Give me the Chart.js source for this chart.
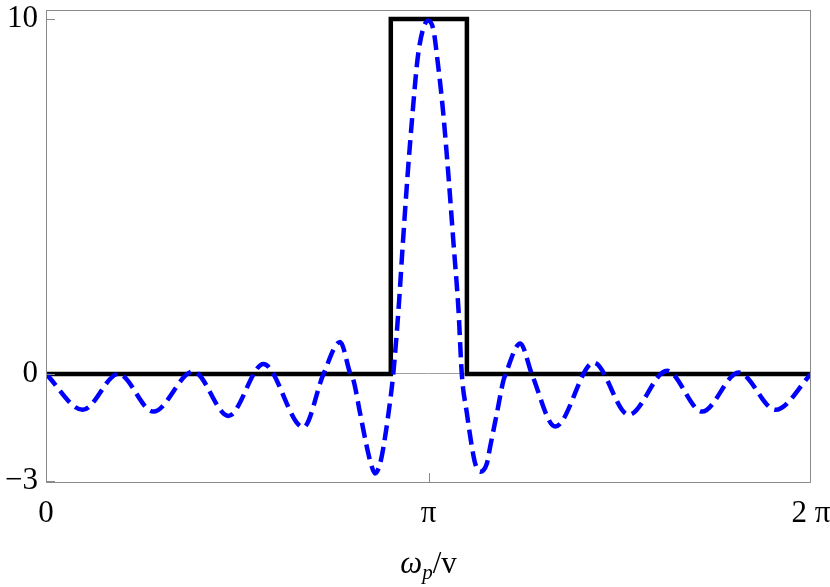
<!DOCTYPE html>
<html>
<head>
<meta charset="utf-8">
<script src="https://cdn.jsdelivr.net/npm/chart.js@4/dist/chart.umd.min.js"></script>
<style>
  html, body { margin: 0; padding: 0; background: #fff; }
  #wrap { width: 830px; height: 587px; position: relative; }
</style>
</head>
<body>
<div id="wrap"><canvas id="chart"></canvas></div>
<script>
// rectangular pulse (solid black)
const pulseX = [0, 2.832, 2.832, 3.457, 3.457, 6.2832];
const pulseY = [0, 0, 10, 10, 0, 0];

// oscillating response (blue dashed)
const waveX = [0, 0.302, 0.594, 0.882, 1.210, 1.498, 1.786, 2.114, 2.279, 2.416, 2.500,
  2.525, 2.580, 2.635, 2.668, 2.703, 2.744, 2.772, 2.813, 2.852,
  2.895, 2.931, 2.969, 3.013, 3.051, 3.095, 3.139,
  3.182, 3.215, 3.260, 3.306, 3.347, 3.388, 3.415,
  3.457, 3.498, 3.525, 3.566, 3.621, 3.648, 3.703, 3.758, 3.775,
  3.895, 3.990, 4.183, 4.498, 4.786, 5.101, 5.389, 5.690, 5.992, 6.2832];
const waveY = [0, -1.01, 0.0, -1.06, 0.07, -1.18, 0.28, -1.5, 0, 0.9, 0,
  -0.17, -1.11, -2.05, -2.52, -2.8, -2.52, -2.05, -1.11, 0,
  1.8, 3.68, 5.56, 7.44, 8.85, 9.69, 9.95,
  9.69, 8.85, 7.44, 5.56, 3.68, 1.8, 0,
  -1.11, -2.05, -2.52, -2.75, -2.52, -2.05, -1.11, -0.17, 0,
  0.86, 0, -1.48, 0.32, -1.15, 0.09, -1.06, 0.04, -1.01, 0];

const xTicks = [0, Math.PI, 2 * Math.PI];
const xTickLabels = ['0', 'π', '2 π'];
const yTicks = [-3, 0, 10];
const yTickLabels = ['−3', '0', '10'];

const serif = '"Liberation Serif", "DejaVu Serif", serif';
const frameColor = '#8a8a8a';

const toPoints = (xs, ys) => xs.map((x, i) => ({ x: x, y: ys[i] }));

// frame, inward ticks and the axis title
const framePlugin = {
  id: 'frame',
  afterDatasetsDraw(chart) {
    const { ctx, chartArea: a, scales } = chart;
    ctx.save();
    ctx.strokeStyle = frameColor;
    ctx.lineWidth = 1;
    ctx.strokeRect(a.left + 0.5, a.top + 0.5, a.right - a.left - 1, a.bottom - a.top - 1);
    ctx.beginPath();
    yTicks.forEach(v => {
      const py = Math.round(scales.y.getPixelForValue(v)) + 0.5;
      ctx.moveTo(a.left, py);
      ctx.lineTo(a.left + 9, py);
    });
    const px = Math.round(scales.x.getPixelForValue(Math.PI)) + 0.5;
    ctx.moveTo(px, a.bottom);
    ctx.lineTo(px, a.bottom - 10);
    ctx.stroke();
    ctx.restore();
  },
  afterDraw(chart) {
    const { ctx, scales } = chart;
    const cx = scales.x.getPixelForValue(Math.PI);
    const base = 573;
    const parts = [
      { t: 'ω', f: 'italic 31px ' + serif, dy: 0 },
      { t: 'p', f: 'italic 21px ' + serif, dy: 6 },
      { t: '/v', f: '31px ' + serif, dy: 0 }
    ];
    ctx.save();
    ctx.fillStyle = '#000';
    ctx.textBaseline = 'alphabetic';
    let total = 0;
    parts.forEach(p => { ctx.font = p.f; p.w = ctx.measureText(p.t).width; total += p.w; });
    let x = cx - total / 2;
    parts.forEach(p => {
      ctx.font = p.f;
      ctx.fillText(p.t, x, base + p.dy);
      x += p.w;
    });
    ctx.restore();
  }
};

new Chart(document.getElementById('chart'), {
  type: 'line',
  data: {
    datasets: [
      {
        label: 'response',
        data: toPoints(waveX, waveY),
        borderColor: '#0000ff',
        borderWidth: 4.5,
        borderDash: [15, 7],
        borderCapStyle: 'butt',
        pointRadius: 0,
        cubicInterpolationMode: 'monotone',
        fill: false
      },
      {
        label: 'pulse',
        data: toPoints(pulseX, pulseY),
        borderColor: '#000',
        borderWidth: 4.5,
        borderJoinStyle: 'miter',
        pointRadius: 0,
        tension: 0,
        fill: false
      }
    ]
  },
  options: {
    responsive: true,
    maintainAspectRatio: false,
    animation: false,
    layout: { padding: { top: 10, right: 19, left: 0, bottom: 0 } },
    plugins: { legend: { display: false }, tooltip: { enabled: false } },
    scales: {
      x: {
        type: 'linear',
        min: 0,
        max: 2 * Math.PI,
        afterBuildTicks: s => { s.ticks = xTicks.map(v => ({ value: v })); },
        afterFit: s => { s.height = 104; s.paddingLeft = 0; s.paddingRight = 0; },
        grid: { display: false },
        border: { display: false },
        ticks: {
          autoSkip: false,
          maxRotation: 0,
          padding: 4,
          color: '#000',
          font: { family: serif, size: 31 },
          callback: (v) => xTickLabels[xTicks.findIndex(t => Math.abs(t - v) < 1e-6)]
        }
      },
      y: {
        type: 'linear',
        min: -3.07,
        max: 10.25,
        afterBuildTicks: s => { s.ticks = yTicks.map(v => ({ value: v })); },
        afterFit: s => { s.width = 46; s.paddingTop = 0; s.paddingBottom = 0; },
        grid: {
          drawTicks: false,
          color: c => (c.tick && c.tick.value === 0 ? '#a0a0a0' : 'rgba(0,0,0,0)'),
          lineWidth: 1
        },
        border: { display: false },
        ticks: {
          autoSkip: false,
          padding: 8,
          color: '#000',
          font: { family: serif, size: 31 },
          callback: (v) => yTickLabels[yTicks.indexOf(v)]
        }
      }
    }
  },
  plugins: [framePlugin]
});
</script>
</body>
</html>
